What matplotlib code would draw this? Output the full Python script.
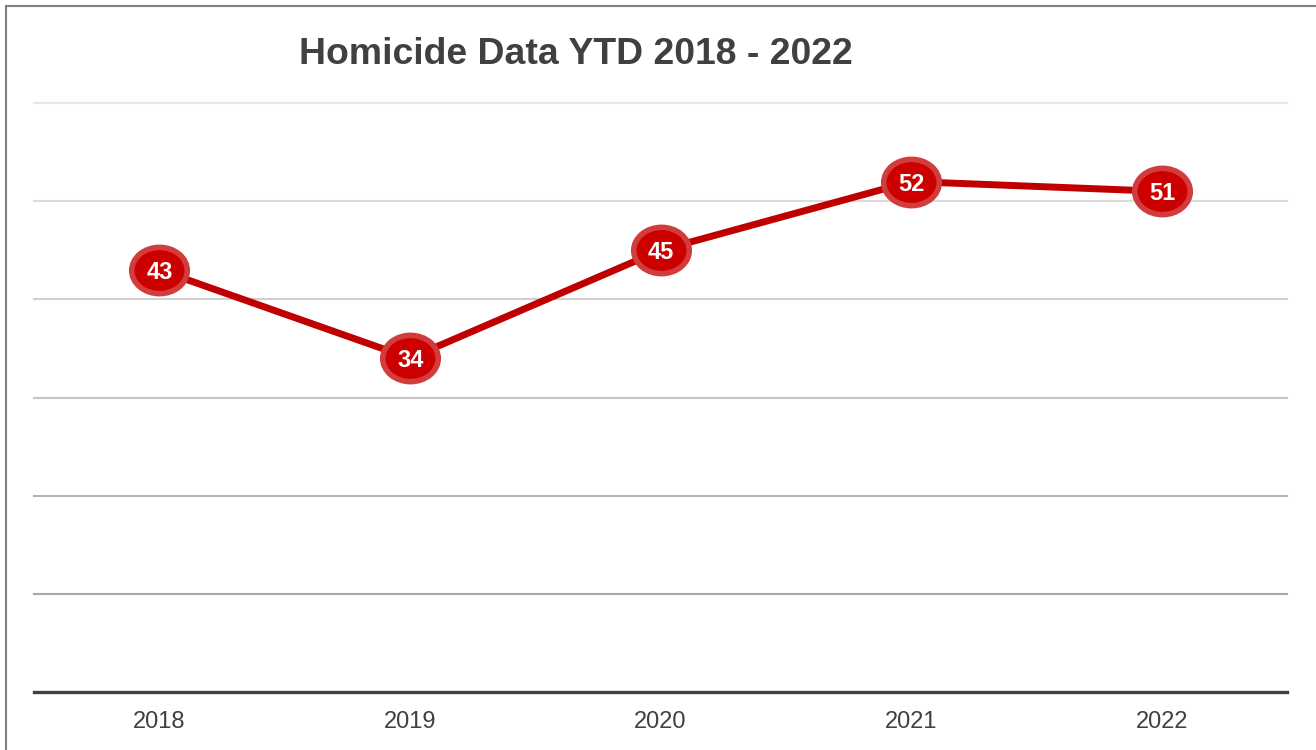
import matplotlib
matplotlib.use("Agg")
import matplotlib.pyplot as plt
import numpy as np
from matplotlib.path import Path
from matplotlib.markers import MarkerStyle
from matplotlib.patches import Rectangle

plt.rcParams['font.family'] = ['Liberation Sans', 'DejaVu Sans']

# Data
years = ["2018", "2019", "2020", "2021", "2022"]
homicides = [43, 34, 45, 52, 51]
grid_values = [10, 20, 30, 40, 50, 60]
grid_colors = ['#a6a6a6', '#b3b3b3', '#c4c4c4', '#d0d0d0', '#dcdcdc', '#e6e6e6']
title = "Homicide Data YTD 2018 - 2022"

W, H = 1316, 750
fig = plt.figure(figsize=(W / 100, H / 100), dpi=100)
fig.patch.set_facecolor('white')

left, right, top, bottom = 34, 1287, 103, 692
ax = fig.add_axes([left / W, 1 - bottom / H, (right - left) / W, (bottom - top) / H])
ax.set_xlim(-0.5, len(years) - 0.5)
ax.set_ylim(0, 60)

for v, c in zip(grid_values, grid_colors):
    ax.axhline(v, color=c, lw=1.5, zorder=1, clip_on=False)
ax.axhline(0, color='#404040', lw=2.4, zorder=2, clip_on=False)

for s in ax.spines.values():
    s.set_visible(False)
ax.set_yticks([])
x = np.arange(len(years))
ax.set_xticks(x)
ax.set_xticklabels(years, fontsize=17, color='#404040')
ax.tick_params(axis='x', length=0, pad=14)

# ellipse marker
circ = Path.unit_circle()
ell = Path(circ.vertices * np.array([1.2, 1.0]), circ.codes)
marker = MarkerStyle(ell)

ax.plot(x, homicides, color='#c00000', lw=5, zorder=3, solid_capstyle='round')
ax.plot(x, homicides, linestyle='none', marker=marker, markersize=40,
        markerfacecolor='#cc0000', markeredgecolor='#d23c3c', markeredgewidth=4,
        zorder=4, clip_on=False)
for xi, v in zip(x, homicides):
    ax.annotate(str(v), (xi, v), xytext=(0.5, -1.8), textcoords='offset points',
                color='white', fontsize=17, fontweight='bold',
                ha='center', va='center', zorder=5)

fig.text(576 / W, 1 - 54 / H, title, fontsize=26.9, fontweight='bold',
         color='#404040', ha='center', va='center')

# border (left and top visible)
fig.add_artist(Rectangle((5.5 / W, -0.1), 2, 1 + 0.1 - 6.5 / H,
                         transform=fig.transFigure, fill=False,
                         ec='#808080', lw=1.5))

fig.savefig("out.png", dpi=100)
